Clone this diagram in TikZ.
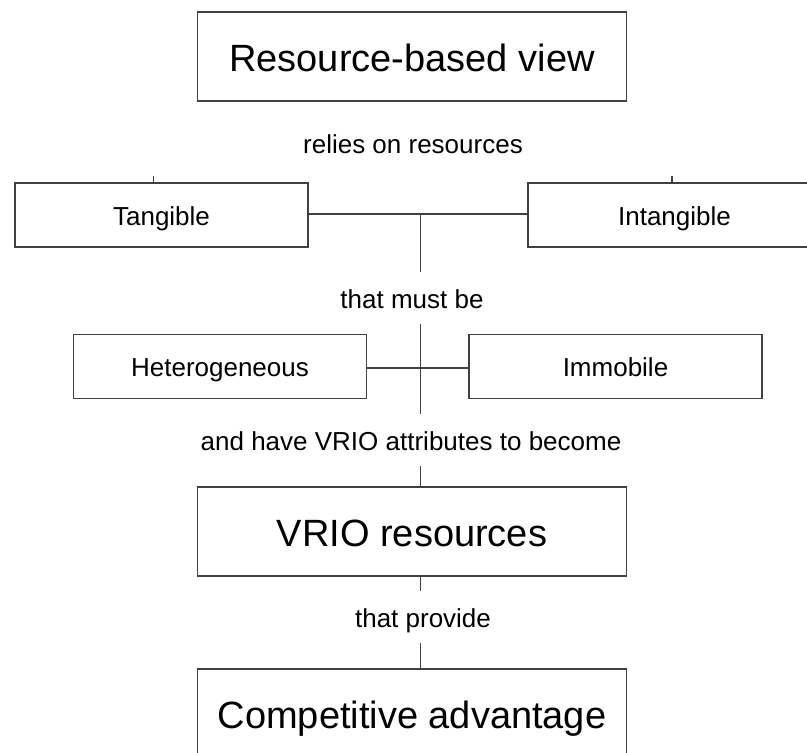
\documentclass[tikz,border=0pt]{standalone}
\usepackage{fontspec}
\setmainfont{Liberation Sans}
\usetikzlibrary{calc}

\newcommand{\bigtext}{\fontsize{38pt}{42pt}\selectfont}
\newcommand{\smalltext}{\fontsize{26pt}{30pt}\selectfont}

\begin{document}
\begin{tikzpicture}[x=1pt, y=1pt, line width=1.3pt,
        bigbox/.style={draw=black!75, minimum width=429pt, minimum height=89pt, inner sep=0pt,
            text height=29pt, text depth=0pt, font=\bigtext},
        smallbox/.style={draw=black!75, minimum width=293pt, minimum height=64pt, inner sep=0pt,
            text height=20pt, text depth=0pt, font=\smalltext},
        lbl/.style={font=\smalltext, text height=20pt, text depth=0pt, inner ysep=15.5pt, inner xsep=0pt},
        link/.style={draw=black!75}]
    \useasboundingbox (0,0) rectangle (807,-753);

    % main chain
    \node [bigbox] (rbv) at (412, -56.5) {Resource-based view};
    \node [lbl] (relies) at (413, -143) {relies on resources};

    \node [smallbox] (tang) at (161.5, -215) {Tangible};
    \node [smallbox] (intang) at (674.5, -215) {Intangible};
    \coordinate (j1) at (420.5, -214);

    \node [lbl] (must) at (412, -298) {that must be};

    \node [smallbox] (hetero) at (220, -366.5) {Heterogeneous};
    \node [smallbox] (immob) at (615.5, -366.5) {Immobile};

    \node [lbl] (attr) at (411, -440) {and have VRIO attributes to become};
    \node [bigbox] (vrio) at (412, -531.5) {VRIO resources};
    \node [lbl] (provide) at (423, -617) {that provide};
    \node [bigbox] (comp) at (412, -713.5) {Competitive advantage};

    % connectors
    \draw [link] ([xshift=-8pt]tang.north) -- ++(0, 6);
    \draw [link] ([xshift=-2.5pt]intang.north) -- ++(0, 6);
    \draw [link] ([yshift=1pt]tang.east) -- ([yshift=1pt]intang.west);
    \draw [link] (j1) -- (j1 |- must.north);
    \draw [link] (j1 |- must.south) -- (j1 |- attr.north);
    \draw [link] ([yshift=-1.5pt]hetero.east) -- ([yshift=-1.5pt]immob.west);
    \draw [link] (j1 |- attr.south) -- (j1 |- vrio.north);
    \draw [link] (j1 |- vrio.south) -- (j1 |- provide.north);
    \draw [link] (j1 |- provide.south) -- (j1 |- comp.north);
\end{tikzpicture}
\end{document}
